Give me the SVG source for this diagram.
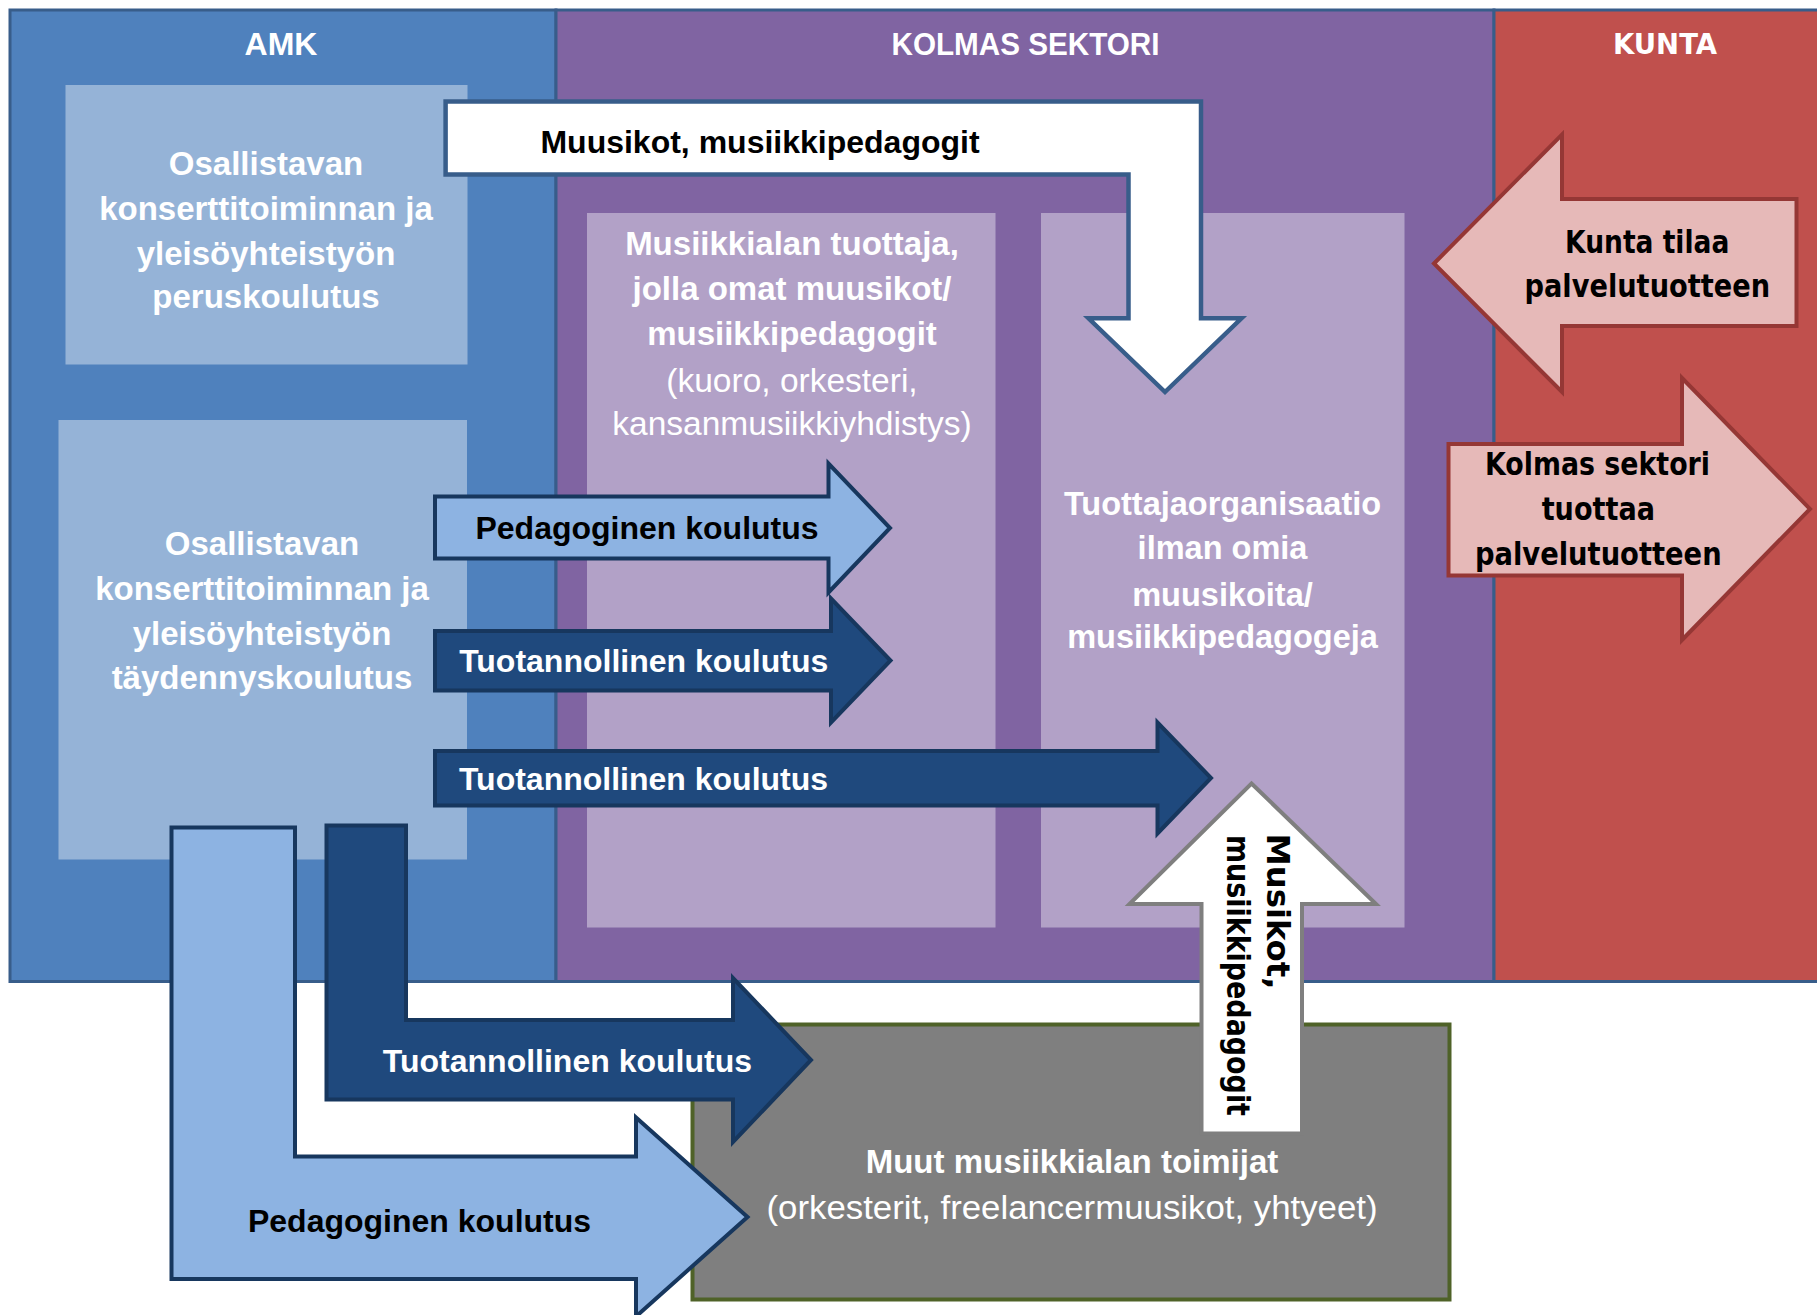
<svg xmlns="http://www.w3.org/2000/svg" width="1817" height="1315" viewBox="0 0 1817 1315">
<style>
.panel{stroke:#385D8A;stroke-width:3}
.cal{font-family:"Liberation Sans",Arial,sans-serif;font-weight:bold;text-anchor:middle}
.reg{font-family:"Liberation Sans",Arial,sans-serif;font-weight:normal;text-anchor:middle}
.ver{font-family:"DejaVu Sans",Verdana,sans-serif;font-weight:bold}
.w{fill:#FFFFFF}
.k{fill:#000000}
.ped{fill:#8DB3E2;stroke:#17375E;stroke-width:4;stroke-linejoin:miter}
.tuo{fill:#1F497D;stroke:#17375E;stroke-width:4;stroke-linejoin:miter}
.kun{fill:#E6B9B8;stroke:#953735;stroke-width:4;stroke-linejoin:miter}
</style>
<rect width="1817" height="1315" fill="#FFFFFF"/>

<g id="amk">
<rect class="panel" x="10" y="10" width="546" height="971.5" fill="#4F81BD"/>
<text class="cal w" x="281" y="55" font-size="32">AMK</text>
</g>
<g id="kolmas-sektori">
<rect class="panel" x="556" y="10" width="938" height="971.5" fill="#8064A2"/>
<text class="cal w" x="1025.5" y="55" font-size="32" textLength="268" lengthAdjust="spacingAndGlyphs">KOLMAS SEKTORI</text>
</g>
<g id="kunta">
<rect class="panel" x="1494" y="10" width="340" height="971.5" fill="#C0504D"/>
<text class="ver w" x="1665" y="53.6" font-size="27.5" text-anchor="middle">KUNTA</text>
</g>

<g id="peruskoulutus">
<rect x="65.5" y="85" width="402" height="279.5" fill="#95B3D7"/>
<text class="cal w" font-size="33"><tspan x="266" y="175">Osallistavan</tspan><tspan x="266" y="220">konserttitoiminnan ja</tspan><tspan x="266" y="265">yleisöyhteistyön</tspan><tspan x="266" y="308">peruskoulutus</tspan></text>
</g>
<g id="taydennyskoulutus">
<rect x="58.5" y="420" width="408.5" height="439.5" fill="#95B3D7"/>
<text class="cal w" font-size="33"><tspan x="262" y="555">Osallistavan</tspan><tspan x="262" y="600">konserttitoiminnan ja</tspan><tspan x="262" y="645">yleisöyhteistyön</tspan><tspan x="262" y="689">täydennyskoulutus</tspan></text>
</g>
<g id="musiikkialan-tuottaja">
<rect x="587" y="213" width="408.5" height="714.5" fill="#B2A1C7"/>
<text class="cal w" font-size="33"><tspan x="792" y="255">Musiikkialan tuottaja,</tspan><tspan x="792" y="300">jolla omat muusikot/</tspan><tspan x="792" y="345">musiikkipedagogit</tspan></text>
<text class="reg w" font-size="33.5"><tspan x="792" y="391.5">(kuoro, orkesteri,</tspan><tspan x="792" y="435">kansanmusiikkiyhdistys)</tspan></text>
</g>
<g id="tuottajaorganisaatio">
<rect x="1041" y="213" width="363.5" height="714.5" fill="#B2A1C7"/>
<text class="cal w" font-size="32.5"><tspan x="1222.5" y="515">Tuottajaorganisaatio</tspan><tspan x="1222.5" y="559">ilman omia</tspan><tspan x="1222.5" y="606">muusikoita/</tspan><tspan x="1222.5" y="648">musiikkipedagogeja</tspan></text>
</g>
<g id="muut-toimijat">
<rect x="692.5" y="1024.5" width="757" height="275" fill="#7F7F7F" stroke="#4F6228" stroke-width="4"/>
<text class="cal w" x="1072" y="1173" font-size="33">Muut musiikkialan toimijat</text>
<text class="reg w" x="1072" y="1218.5" font-size="34" textLength="611" lengthAdjust="spacingAndGlyphs">(orkesterit, freelancermuusikot, yhtyeet)</text>
</g>

<g id="connectors">
<g id="muusikot-down">
<polygon points="445.6,101.5 1201,101.5 1201,318.3 1241.5,318.3 1165,392 1088.5,318.3 1128.5,318.3 1128.5,174.5 445.6,174.5" fill="#FFFFFF" stroke="#385D8A" stroke-width="4.5"/>
<text class="cal k" x="760" y="153.3" font-size="32">Muusikot, musiikkipedagogit</text>
</g>
<g id="pedagoginen-1">
<polygon class="ped" points="435,496.5 828.5,496.5 828.5,463.5 890,528 828.5,592.5 828.5,558.5 435,558.5"/>
<text class="cal k" x="647" y="539.3" font-size="32">Pedagoginen koulutus</text>
</g>
<g id="tuotannollinen-1">
<polygon class="tuo" points="435,631 831,631 831,598.5 890.5,660.5 831,722.5 831,690.5 435,690.5"/>
<text class="cal w" x="643.7" y="672" font-size="32">Tuotannollinen koulutus</text>
</g>
<g id="tuotannollinen-2">
<polygon class="tuo" points="435,751 1157.5,751 1157.5,722.5 1211,778 1157.5,833.5 1157.5,805.5 435,805.5"/>
<text class="cal w" x="643.5" y="790.3" font-size="32">Tuotannollinen koulutus</text>
</g>
<g id="pedagoginen-2">
<polygon class="ped" points="171.5,827.5 295,827.5 295,1156.5 636,1156.5 636,1117.5 747.5,1217 636,1316.5 636,1279 171.5,1279"/>
<text class="cal k" x="419.5" y="1231.7" font-size="32">Pedagoginen koulutus</text>
</g>
<g id="tuotannollinen-3">
<polygon class="tuo" points="326.5,825.5 406,825.5 406,1020 733,1020 733,978 811,1060 733,1142 733,1099.5 326.5,1099.5"/>
<text class="cal w" x="567.4" y="1071.7" font-size="32">Tuotannollinen koulutus</text>
</g>
<g id="musikot-up">
<polygon points="1251.5,783.5 1376,904 1302,904 1302,1133.5 1201.5,1133.5 1201.5,904 1129.5,904" fill="#FFFFFF" stroke="#7F7F7F" stroke-width="4"/>
<text class="ver k" transform="translate(1266.7,833.5) rotate(90)" x="0" y="0" font-size="32.5" textLength="156" lengthAdjust="spacingAndGlyphs">Musikot,</text>
<text class="ver k" transform="translate(1226.7,835) rotate(90)" x="0" y="0" font-size="32.5" textLength="281" lengthAdjust="spacingAndGlyphs">musiikkipedagogit</text>
</g>
<g id="kunta-tilaa">
<polygon class="kun" points="1434,263.5 1562,134.5 1562,199 1796.5,199 1796.5,326 1562,326 1562,392"/>
<text class="ver k" x="1647.2" y="253.3" font-size="32.5" text-anchor="middle" textLength="164.3" lengthAdjust="spacingAndGlyphs">Kunta tilaa</text>
<text class="ver k" x="1647.3" y="296.7" font-size="32.5" text-anchor="middle" textLength="245.7" lengthAdjust="spacingAndGlyphs">palvelutuotteen</text>
</g>
<g id="kolmas-tuottaa">
<polygon class="kun" points="1448.5,444 1682,444 1682,378 1810,509 1682,640 1682,575.5 1448.5,575.5"/>
<text class="ver k" x="1597.5" y="475.4" font-size="32.5" text-anchor="middle" textLength="225" lengthAdjust="spacingAndGlyphs">Kolmas sektori</text>
<text class="ver k" x="1598.3" y="520" font-size="32.5" text-anchor="middle" textLength="113.3" lengthAdjust="spacingAndGlyphs">tuottaa</text>
<text class="ver k" x="1598.3" y="564.7" font-size="32.5" text-anchor="middle" textLength="246.7" lengthAdjust="spacingAndGlyphs">palvelutuotteen</text>
</g>
</g>
</svg>
